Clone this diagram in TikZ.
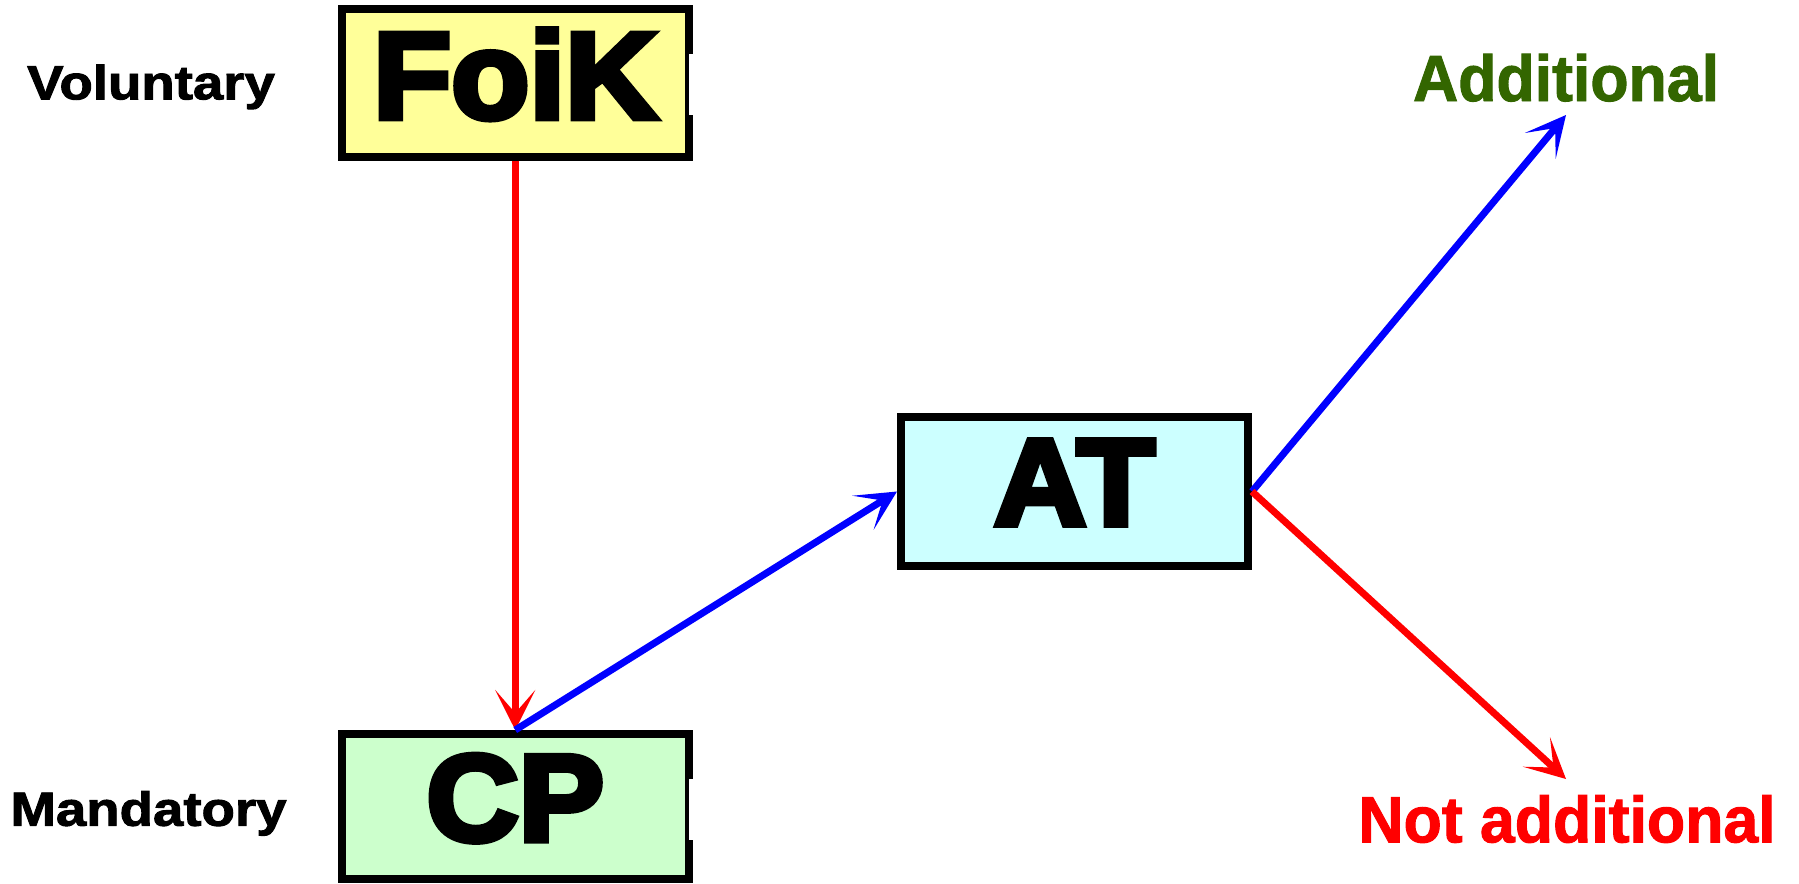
\documentclass[tikz,border=0pt]{standalone}
\usepackage{fontspec}
\setmainfont{Liberation Sans}
\newfontfamily\bigfont{Liberation Sans Bold}[FakeBold=5,FakeStretch=1.04]
\newfontfamily\lblfont{Liberation Sans Bold}[FakeBold=2,FakeStretch=1.14]
\newfontfamily\outfont{Liberation Sans Bold}[FakeBold=1.5,FakeStretch=0.96]
\usetikzlibrary{arrows.meta}
\definecolor{boxyellow}{HTML}{FFFF99}
\definecolor{boxgreen}{HTML}{CCFFCC}
\definecolor{boxcyan}{HTML}{CCFFFF}
\definecolor{addgreen}{HTML}{336600}
\definecolor{arrred}{HTML}{FF0000}
\definecolor{arrblue}{HTML}{0000FF}
\begin{document}
\begin{tikzpicture}[x=1bp,y=-1bp,
  box/.style={draw=black,line width=8bp,minimum width=347.5bp,minimum height=148bp,
    inner sep=0pt,font=\bigfont\fontsize{123bp}{130bp}\selectfont,text depth=18bp},
  lbl/.style={inner sep=0pt,anchor=base,font=\lblfont\fontsize{47.9bp}{50bp}\selectfont},
  outlbl/.style={inner sep=0pt,anchor=base,font=\outfont\fontsize{65.2bp}{68bp}\selectfont},
  tip/.style={-{Stealth[length=40bp,width=40bp,inset=23bp]}},
  redarrow/.style={tip,draw=arrred,line width=7bp},
  bluearrow/.style={tip,draw=arrblue,line width=7bp}]
\useasboundingbox (0,0) rectangle (1799,884);
% boxes
\node[box,fill=boxyellow] (foik) at (515.25,82.7) {FoiK};
\node[box,fill=boxgreen,minimum height=145.3bp] (cp) at (515.25,806.65) {CP};
\node[box,fill=boxcyan,minimum width=347bp,minimum height=149bp] (at) at (1074.5,491.5) {AT};
% small notches in right borders
\fill[white] (689,54) rectangle (694,115);
\fill[white] (689,779) rectangle (694,840);
% labels
\node[lbl] (vol) at (151,99.3) {Voluntary};
\node[lbl] (man) at (148.5,825.7) {Mandatory};
\node[outlbl,text=addgreen] (add) at (1566,101) {Additional};
\node[outlbl,text=arrred] (nadd) at (1567,842.3) {Not additional};
% arrow ends
\coordinate (addtip) at (1566,115);
\coordinate (natip) at (1566,779);
% connectors
\draw[redarrow] (foik.south) -- (cp.north);
\draw[bluearrow] (cp.north) -- (at.west);
\draw[bluearrow] (at.east) -- (addtip);
\draw[redarrow] (at.east) -- (natip);
\end{tikzpicture}
\end{document}
